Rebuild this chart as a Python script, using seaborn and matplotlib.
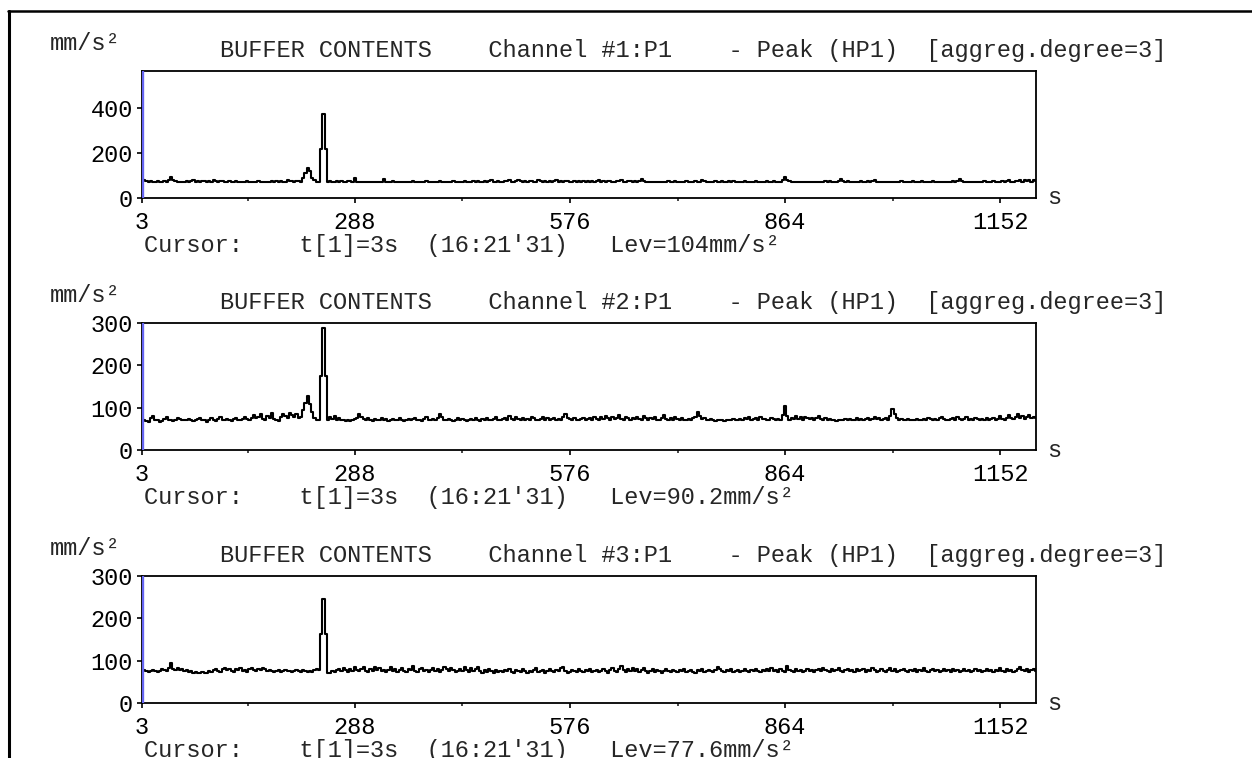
import numpy as np
import pandas as pd
import seaborn as sns
import matplotlib.pyplot as plt
from matplotlib.lines import Line2D
from matplotlib.ticker import FixedLocator

# buffer contents, one value every 3 s (aggreg.degree=3), in mm/s²
t_start = 3
t_step = 3

ch1 = [
    88, 80, 74, 72, 75, 70, 72, 76, 72, 70, 74, 71, 80, 95, 78, 74, 72, 70, 72, 71,
    74, 72, 75, 78, 73, 74, 71, 76, 74, 72, 75, 73, 79, 74, 72, 75, 76, 71, 73, 74,
    70, 72, 74, 73, 70, 71, 72, 75, 73, 70, 72, 71, 74, 72, 70, 73, 71, 72, 76, 73,
    74, 72, 75, 71, 73, 78, 74, 76, 73, 77, 74, 72, 88, 110, 135, 118, 90, 78, 72, 70,
    218, 373, 218, 70, 74, 72, 73, 76, 72, 74, 73, 71, 75, 74, 73, 88, 72, 71, 70, 72,
    71, 70, 70, 72, 71, 70, 71, 73, 86, 71, 70, 72, 75, 72, 70, 71, 73, 72, 70, 71,
    72, 74, 71, 70, 73, 72, 71, 74, 72, 70, 73, 71, 72, 75, 71, 72, 73, 70, 72, 74,
    71, 73, 72, 70, 74, 72, 73, 71, 75, 72, 74, 71, 73, 76, 72, 74, 78, 73, 72, 75,
    73, 72, 76, 74, 80, 73, 72, 74, 79, 75, 73, 76, 72, 74, 77, 72, 73, 80, 74, 72,
    75, 73, 76, 72, 74, 78, 73, 75, 72, 77, 74, 72, 73, 75, 72, 76, 73, 74, 72, 75,
    73, 76, 72, 74, 79, 73, 75, 72, 74, 77, 73, 72, 75, 74, 80, 73, 72, 74, 76, 73,
    74, 72, 75, 84, 76, 72, 71, 72, 71, 72, 71, 73, 72, 71, 72, 76, 72, 71, 74, 72,
    73, 71, 72, 74, 72, 73, 71, 74, 72, 73, 78, 74, 72, 73, 71, 72, 75, 73, 72, 74,
    72, 73, 76, 72, 74, 71, 72, 73, 72, 74, 71, 73, 72, 71, 74, 72, 73, 71, 72, 74,
    73, 72, 74, 72, 71, 73, 80, 92, 82, 75, 72, 73, 71, 72, 73, 72, 71, 72, 73, 71,
    72, 73, 72, 71, 72, 76, 72, 74, 71, 73, 72, 75, 84, 76, 72, 74, 72, 73, 71, 73,
    72, 74, 72, 73, 76, 72, 74, 80, 73, 72, 71, 72, 73, 72, 71, 72, 73, 71, 72, 74,
    72, 71, 73, 72, 75, 72, 73, 71, 74, 72, 73, 72, 71, 74, 73, 72, 71, 72, 73, 72,
    72, 73, 74, 72, 76, 84, 75, 72, 73, 71, 72, 73, 72, 71, 73, 72, 74, 72, 73, 72,
    74, 72, 73, 71, 75, 72, 74, 78, 73, 72, 76, 74, 80, 72, 78, 74, 81, 73, 79, 75,
]

ch2 = [
    78, 72, 68, 66, 75, 80, 72, 70, 66, 68, 74, 78, 72, 70, 68, 72, 76, 73, 71, 72,
    70, 74, 72, 68, 70, 73, 76, 72, 70, 67, 72, 75, 71, 69, 73, 77, 72, 70, 74, 71,
    69, 73, 76, 72, 70, 74, 78, 73, 71, 76, 82, 75, 78, 86, 74, 72, 80, 76, 88, 74,
    72, 68, 78, 85, 80, 76, 88, 82, 77, 84, 75, 78, 95, 112, 128, 108, 90, 76, 72, 70,
    175, 288, 175, 70, 78, 74, 80, 72, 76, 70, 72, 68, 70, 69, 71, 74, 76, 84, 78, 73,
    71, 75, 72, 69, 74, 70, 72, 76, 71, 73, 69, 72, 74, 70, 71, 75, 72, 68, 71, 74,
    70, 73, 76, 71, 72, 69, 74, 78, 72, 70, 73, 71, 76, 85, 78, 72, 70, 73, 71, 69,
    72, 75, 70, 73, 71, 68, 72, 74, 70, 76, 72, 69, 73, 71, 75, 72, 70, 74, 78, 72,
    70, 73, 76, 72, 80, 74, 71, 78, 73, 70, 76, 72, 74, 71, 79, 75, 72, 70, 74, 77,
    72, 75, 71, 73, 76, 70, 74, 72, 78, 85, 76, 73, 71, 75, 72, 70, 74, 76, 72, 73,
    76, 72, 79, 74, 71, 77, 73, 80, 75, 72, 78, 74, 76, 82, 73, 72, 78, 75, 71, 76,
    73, 79, 74, 72, 80, 75, 71, 76, 73, 78, 72, 70, 75, 83, 74, 70, 76, 72, 78, 74,
    71, 75, 72, 70, 74, 72, 76, 79, 90, 80, 74, 76, 72, 70, 73, 71, 69, 72, 70, 71,
    69, 72, 70, 71, 73, 70, 72, 74, 71, 76, 73, 78, 72, 74, 76, 72, 77, 73, 74, 70,
    72, 75, 73, 71, 74, 70, 82, 105, 80, 72, 76, 74, 80, 73, 77, 72, 78, 75, 73, 76,
    72, 75, 80, 74, 72, 76, 71, 74, 70, 72, 69, 71, 70, 72, 74, 71, 73, 70, 72, 75,
    71, 74, 72, 73, 76, 72, 74, 78, 73, 75, 72, 74, 76, 71, 80, 96, 84, 76, 72, 74,
    70, 72, 73, 71, 70, 72, 74, 71, 70, 73, 72, 76, 73, 71, 74, 72, 75, 78, 73, 72,
    70, 73, 76, 72, 79, 74, 71, 73, 77, 72, 74, 71, 76, 73, 70, 74, 72, 75, 71, 73,
    76, 72, 74, 80, 73, 71, 76, 82, 75, 73, 78, 84, 76, 80, 74, 78, 83, 75, 79, 76,
]

ch3 = [
    80, 78, 76, 74, 76, 78, 75, 73, 76, 80, 78, 76, 82, 94, 80, 78, 82, 78, 80, 76,
    78, 74, 76, 72, 74, 72, 70, 74, 72, 70, 76, 74, 78, 80, 76, 74, 80, 82, 78, 80,
    76, 74, 80, 78, 82, 76, 78, 74, 80, 82, 78, 76, 80, 78, 82, 80, 76, 78, 76, 74,
    76, 78, 74, 76, 78, 75, 76, 74, 76, 78, 75, 74, 77, 75, 73, 76, 74, 77, 80, 78,
    162, 246, 162, 72, 72, 76, 74, 78, 80, 76, 82, 78, 74, 80, 76, 86, 78, 76, 80, 84,
    76, 74, 80, 76, 86, 78, 82, 75, 79, 74, 78, 84, 76, 80, 74, 78, 82, 76, 74, 80,
    78, 88, 76, 74, 80, 82, 76, 79, 74, 78, 82, 76, 80, 74, 78, 86, 80, 76, 82, 78,
    74, 76, 80, 76, 84, 78, 74, 82, 76, 80, 84, 76, 72, 78, 74, 80, 76, 72, 78, 74,
    76, 74, 78, 76, 80, 74, 72, 78, 76, 74, 80, 76, 72, 76, 74, 78, 82, 74, 76, 78,
    72, 76, 80, 76, 74, 78, 76, 82, 86, 76, 72, 74, 78, 76, 74, 80, 76, 74, 78, 76,
    80, 74, 76, 78, 74, 76, 80, 76, 72, 78, 82, 76, 74, 80, 88, 78, 74, 80, 76, 82,
    76, 80, 74, 78, 82, 76, 72, 76, 80, 74, 78, 76, 72, 76, 80, 76, 74, 78, 76, 74,
    78, 76, 80, 74, 76, 78, 74, 72, 78, 76, 80, 74, 76, 78, 76, 74, 78, 86, 80, 76,
    74, 78, 76, 80, 74, 76, 78, 74, 76, 80, 76, 74, 78, 76, 80, 76, 74, 78, 76, 80,
    76, 82, 76, 78, 74, 80, 76, 74, 88, 78, 76, 74, 80, 76, 78, 74, 76, 80, 76, 78,
    74, 78, 80, 76, 82, 78, 76, 74, 80, 76, 78, 82, 76, 74, 78, 80, 76, 78, 74, 80,
    76, 78, 80, 74, 78, 76, 82, 78, 74, 76, 80, 76, 74, 78, 82, 76, 80, 74, 76, 78,
    80, 76, 74, 78, 76, 80, 74, 78, 76, 82, 76, 74, 78, 80, 76, 78, 74, 76, 80, 76,
    78, 74, 80, 76, 78, 74, 76, 80, 76, 78, 74, 76, 80, 76, 78, 74, 76, 80, 76, 78,
    74, 78, 76, 82, 76, 74, 80, 76, 78, 74, 76, 80, 86, 78, 76, 80, 74, 78, 80, 76,
]

channels = [ch1, ch2, ch3]
channel_names = ['Channel #1:P1', 'Channel #2:P1', 'Channel #3:P1']
cursor_levels = ['104', '90.2', '77.6']
y_tops = [565, 300, 300]
y_ticks = [[0, 200, 400], [0, 100, 200, 300], [0, 100, 200, 300]]
x_ticks = [3, 288, 576, 864, 1152]
x_minor = [145.5, 432, 720, 1008]
x_end = 1200

# layout in pixels of the 1252x758 picture
W, H = 1252, 758
panel_top = [71, 323, 576]
panel_h = 127
ax_left, ax_right = 142, 1036
fs = 17

sns.set_style('white')
plt.rcParams['font.family'] = ['Liberation Mono', 'DejaVu Sans Mono']


def fx(px):
    return px / W


def fy(py):
    return 1 - py / H


fig = plt.figure(figsize=(W / 100, H / 100), dpi=100)
fig.patch.set_facecolor('white')

for k, vals in enumerate(channels):
    top = panel_top[k]
    bottom = top + panel_h
    ax = fig.add_axes([fx(ax_left), fy(bottom), (ax_right - ax_left) / W, panel_h / H])
    df = pd.DataFrame({'t': t_start + t_step * np.arange(len(vals)), 'v': vals})
    sns.lineplot(data=df, x='t', y='v', ax=ax, color='black', lw=1.5,
                 drawstyle='steps-mid', zorder=3)
    # cursor t[1]=3s
    ax.axvline(t_start, color='#6565f2', lw=2.4, zorder=5)
    ax.set_xlim(t_start, x_end)
    ax.set_ylim(0, y_tops[k])
    ax.set_xticks(x_ticks)
    ax.set_xticklabels([str(v) for v in x_ticks])
    ax.xaxis.set_minor_locator(FixedLocator(x_minor))
    ax.set_yticks(y_ticks[k])
    ax.set_xlabel('')
    ax.set_ylabel('')
    for s in ax.spines.values():
        s.set_visible(True)
        s.set_color('black')
        s.set_linewidth(1.3)
    ax.tick_params(axis='x', which='major', direction='out', length=3.6, width=1.2,
                   pad=6, labelsize=fs, bottom=True, colors='black')
    ax.tick_params(axis='x', which='minor', direction='out', length=2.2, width=1.2,
                   bottom=True)
    ax.tick_params(axis='y', direction='out', length=3.6, width=1.2, pad=3,
                   labelsize=fs, left=True, colors='black')

    # texts round the panel
    fig.text(fx(50), fy(top - 21), 'mm/s²', fontsize=fs, va='baseline', ha='left')
    title = f'BUFFER CONTENTS    {channel_names[k]}    - Peak (HP1)  [aggreg.degree=3]'
    fig.text(fx(220), fy(top - 14), title, fontsize=fs, va='baseline', ha='left')
    cursor = f"Cursor:    t[1]=3s  (16:21'31)   Lev={cursor_levels[k]}mm/s²"
    fig.text(fx(144), fy(bottom + 54), cursor, fontsize=fs, va='baseline', ha='left')
    fig.text(fx(1047), fy(bottom), 's', fontsize=fs, va='center', ha='left')

# outer frame (top and left edges)
fig.add_artist(Line2D([fx(8), 1], [fy(11), fy(11)], color='black', lw=1.8))
fig.add_artist(Line2D([fx(9), fx(9)], [fy(11), 0], color='black', lw=2.2))

fig.savefig('out.png', dpi=100)
